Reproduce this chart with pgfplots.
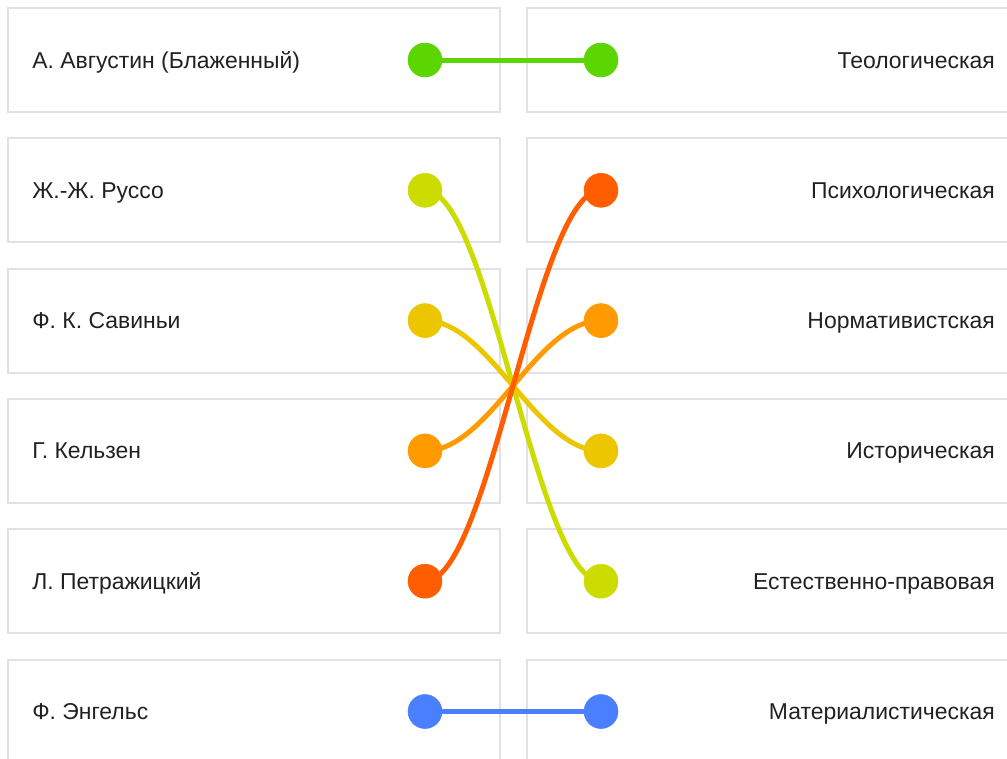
\documentclass[border=0pt]{standalone}
\usepackage{pgfplots}
\pgfplotsset{compat=1.18}
\usepackage{fontspec}
\setmainfont{Liberation Sans}
\definecolor{boxc}{RGB}{224,224,230}
\definecolor{cA}{RGB}{92,214,0}
\definecolor{cB}{RGB}{205,220,0}
\definecolor{cC}{RGB}{236,198,0}
\definecolor{cD}{RGB}{255,155,0}
\definecolor{cE}{RGB}{255,94,0}
\definecolor{cF}{RGB}{74,128,255}
\definecolor{txt}{RGB}{33,33,33}
\tikzset{lab/.style={text=txt, font=\fontsize{17.2}{20}\selectfont, inner sep=0pt}}
\begin{document}
\begin{tikzpicture}
\begin{axis}[
  scale only axis, width=755.25pt, height=568.5pt,
  xmin=0, xmax=1007, ymin=0, ymax=758, y dir=reverse,
  axis lines=none, clip=true,
]
% boxes (row centres)
\pgfplotsinvokeforeach{60,190.3,320.6,450.9,581.2,711.5}{
  \draw[boxc, line width=1.5pt] (axis cs:8,#1-52) rectangle (axis cs:500,#1+52);
  \draw[boxc, line width=1.5pt] (axis cs:527,#1-52) rectangle (axis cs:1030,#1+52);
}
% left labels (baseline = row centre + 8)
\node[anchor=base west, lab] at (axis cs:32,68) {А. Августин (Блаженный)};
\node[anchor=base west, lab] at (axis cs:32,198.3) {Ж.-Ж. Руссо};
\node[anchor=base west, lab] at (axis cs:32,328.6) {Ф. К. Савиньи};
\node[anchor=base west, lab] at (axis cs:32,458.9) {Г. Кельзен};
\node[anchor=base west, lab] at (axis cs:32,589.2) {Л. Петражицкий};
\node[anchor=base west, lab] at (axis cs:32,719.5) {Ф. Энгельс};
% right labels
\node[anchor=base east, lab] at (axis cs:995,68) {Теологическая};
\node[anchor=base east, lab] at (axis cs:995,198.3) {Психологическая};
\node[anchor=base east, lab] at (axis cs:995,328.6) {Нормативистская};
\node[anchor=base east, lab] at (axis cs:995,458.9) {Историческая};
\node[anchor=base east, lab] at (axis cs:995,589.2) {Естественно-правовая};
\node[anchor=base east, lab] at (axis cs:995,719.5) {Материалистическая};
% connectors (left dot y -> right dot y)
\draw[cA, line width=3.75pt] (axis cs:425,60) .. controls (axis cs:490,60) and (axis cs:536,60) .. (axis cs:601,60);
\draw[cB, line width=3.75pt] (axis cs:425,190.3) .. controls (axis cs:490,190.3) and (axis cs:536,581.2) .. (axis cs:601,581.2);
\draw[cC, line width=3.75pt] (axis cs:425,320.6) .. controls (axis cs:490,320.6) and (axis cs:536,450.9) .. (axis cs:601,450.9);
\draw[cD, line width=3.75pt] (axis cs:425,450.9) .. controls (axis cs:490,450.9) and (axis cs:536,320.6) .. (axis cs:601,320.6);
\draw[cE, line width=3.75pt] (axis cs:425,581.2) .. controls (axis cs:490,581.2) and (axis cs:536,190.3) .. (axis cs:601,190.3);
\draw[cF, line width=3.75pt] (axis cs:425,711.5) .. controls (axis cs:490,711.5) and (axis cs:536,711.5) .. (axis cs:601,711.5);
% dots
\addplot[only marks, mark=*, mark size=12.75pt, color=cA] coordinates {(425,60) (601,60)};
\addplot[only marks, mark=*, mark size=12.75pt, color=cB] coordinates {(425,190.3) (601,581.2)};
\addplot[only marks, mark=*, mark size=12.75pt, color=cC] coordinates {(425,320.6) (601,450.9)};
\addplot[only marks, mark=*, mark size=12.75pt, color=cD] coordinates {(425,450.9) (601,320.6)};
\addplot[only marks, mark=*, mark size=12.75pt, color=cE] coordinates {(425,581.2) (601,190.3)};
\addplot[only marks, mark=*, mark size=12.75pt, color=cF] coordinates {(425,711.5) (601,711.5)};
\end{axis}
\pgfresetboundingbox
\path[use as bounding box] (current axis.south west) rectangle (current axis.north east);
\end{tikzpicture}
\end{document}
